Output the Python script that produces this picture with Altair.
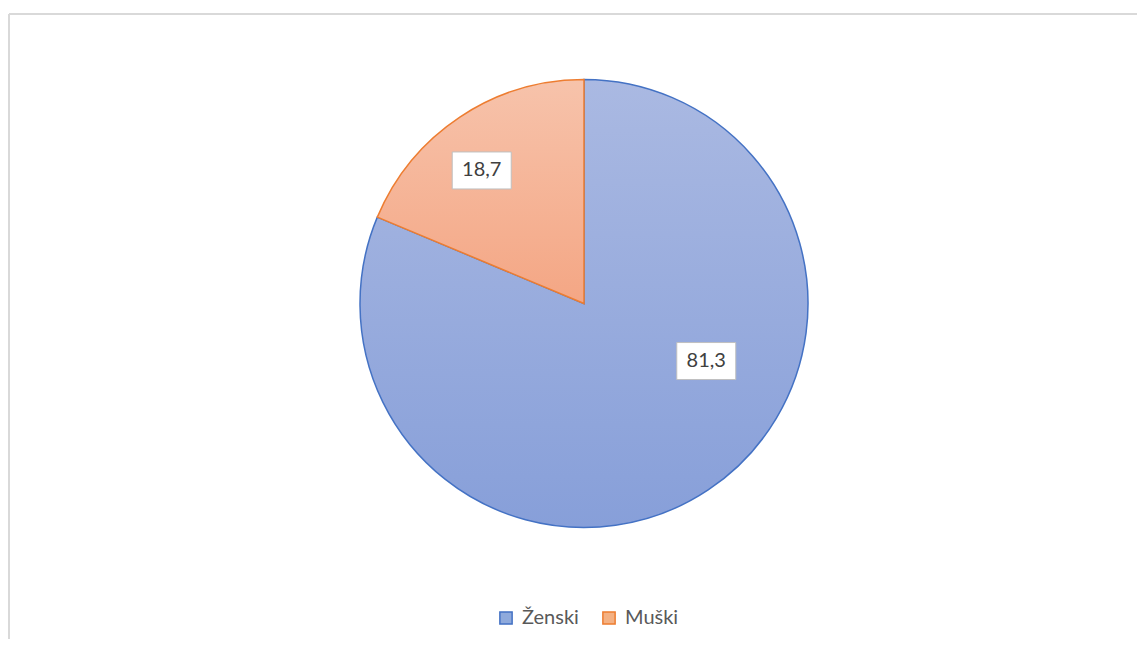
import altair as alt
import pandas as pd

categories = ["Ženski", "Muški"]
values = [81.3, 18.7]
labels = ["81,3", "18,7"]
order = [0, 1]

df = pd.DataFrame({"cat": categories, "value": values, "label": labels, "order": order})

W, H = 1100, 591
R = 224
LR = 134

grad = {
    "Ženski": ("#aab9e2", "#879fd9", "#4472c4"),
    "Muški": ("#f7c3ab", "#f4a684", "#ed7d31"),
}
# per-label shift from mid-angle anchor (Excel best-fit placement)
shift = {"Ženski": (48, -54), "Muški": (-28, -21.5)}

base = alt.Chart(df).transform_window(
    end="sum(value)", sort=[alt.SortField("order")], frame=[None, 0]
).transform_calculate(
    start="datum.end - datum.value",
    mid="(datum.end - datum.value/2) / 100 * 2 * PI",
).transform_calculate(
    lx=f"sin(datum.mid) * {LR}",
    ly=f"cos(datum.mid) * {LR}",
).transform_calculate(
    bx1="datum.lx - 29.5", bx2="datum.lx + 29.5",
    by1="datum.ly - 18.5", by2="datum.ly + 18.5",
    px="0", py="0",
)

xs = alt.Scale(domain=[-W / 2, W / 2])
ys = alt.Scale(domain=[-H / 2, H / 2])
ts = alt.Scale(domain=[0, 100])

# legend carrier (hidden under the pie)
legend_layer = base.mark_point(shape="square", filled=True, strokeWidth=1.5, opacity=1).encode(
    x=alt.X("px:Q", scale=xs, axis=None),
    y=alt.Y("py:Q", scale=ys, axis=None),
    fill=alt.Fill("cat:N", scale=alt.Scale(domain=categories, range=["#8faadc", "#f4b183"]),
                  legend=alt.Legend(title=None, orient="none", direction="horizontal",
                                    legendX=462, legendY=600, symbolType="square",
                                    symbolSize=150, symbolStrokeWidth=1.5,
                                    labelFont="Lato", labelFontSize=20, labelColor="#595959",
                                    columnPadding=20, labelOffset=6)),
    stroke=alt.Stroke("cat:N", scale=alt.Scale(domain=categories, range=["#4472c4", "#ed7d31"])),
)

layers = [legend_layer]
for c in categories:
    top, bot, st = grad[c]
    layers.append(
        base.transform_filter(alt.datum.cat == c).mark_arc(
            outerRadius=R, stroke=st, strokeWidth=1.5,
            fill=alt.Gradient(gradient="linear", x1=0, x2=0, y1=0, y2=1,
                              stops=[alt.GradientStop(color=top, offset=0),
                                     alt.GradientStop(color=bot, offset=1)]),
        ).encode(
            theta=alt.Theta("start:Q", scale=ts, stack=None),
            theta2="end:Q",
        )
    )

for c in categories:
    dx, dy = shift[c]
    sub = base.transform_filter(alt.datum.cat == c)
    layers.append(
        sub.mark_rect(fill="white", stroke="#bfbfbf", strokeWidth=1,
                      xOffset=dx, x2Offset=dx, yOffset=dy, y2Offset=dy).encode(
            x=alt.X("bx1:Q", scale=xs, axis=None), x2="bx2:Q",
            y=alt.Y("by1:Q", scale=ys, axis=None), y2="by2:Q",
        )
    )
    layers.append(
        sub.mark_text(font="Lato", fontSize=20, color="#404040", align="center",
                      baseline="middle", dx=dx, dy=dy).encode(
            x=alt.X("lx:Q", scale=xs, axis=None),
            y=alt.Y("ly:Q", scale=ys, axis=None),
            text="label:N",
        )
    )

frame_data = alt.InlineData(values=[{"a": 1}])
frame_v = alt.Chart(frame_data).mark_rule(color="#d9d9d9", strokeWidth=2).encode(
    x=alt.value(-25), y=alt.value(6), y2=alt.value(700))
frame_h = alt.Chart(frame_data).mark_rule(color="#d9d9d9", strokeWidth=2).encode(
    x=alt.value(-25), x2=alt.value(1200), y=alt.value(6))

chart = alt.layer(frame_v, frame_h, *layers).properties(
    width=W, height=H,
    autosize=alt.AutoSizeParams(type="none"),
    padding={"left": 26, "top": 0, "right": 3, "bottom": 40},
).configure_view(stroke=None)

chart.save("out.html", embed_options={"renderer": "svg", "actions": False})
